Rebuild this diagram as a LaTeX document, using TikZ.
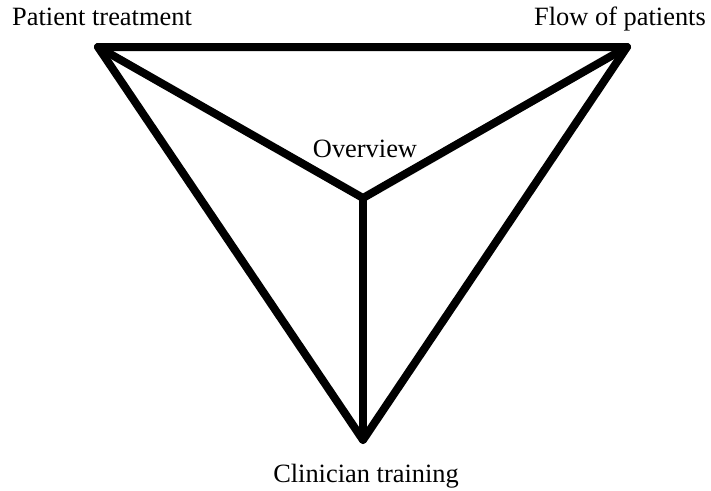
\documentclass[tikz,border=0pt]{standalone}
\usepackage{fontspec}
\setmainfont{Liberation Serif}
\begin{document}
\begin{tikzpicture}[x=1pt,y=-1pt,
  edge/.style={line width=8pt,line join=round,line cap=round},
  lbl/.style={anchor=base,inner sep=0pt,font=\fontsize{26.4}{30}\selectfont}]
\useasboundingbox (0,0) rectangle (711,490);
\coordinate (tl) at (98,47);
\coordinate (tr) at (627,47);
\coordinate (bt) at (363,440);
\coordinate (ct) at (363,198);
\draw[edge] (tl) -- (tr) -- (bt) -- cycle;
\draw[edge] (tl) -- (ct);
\draw[edge] (tr) -- (ct);
\draw[edge] (bt) -- (ct);
\node[lbl] (pt) at (102,25) {Patient treatment};
\node[lbl] (fp) at (620,25) {Flow of patients};
\node[lbl] (ov) at (365,157) {Overview};
\node[lbl] (cl) at (366,482) {Clinician training};
\end{tikzpicture}
\end{document}
